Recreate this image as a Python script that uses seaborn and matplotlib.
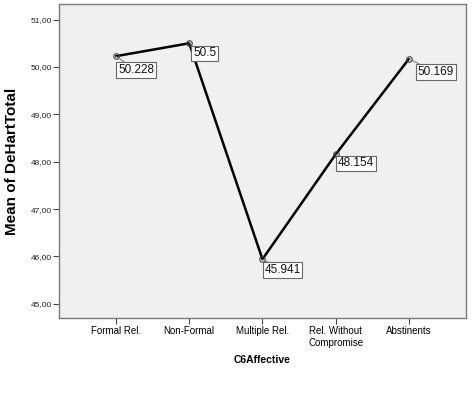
import matplotlib
matplotlib.use('Agg')
import matplotlib.pyplot as plt
import seaborn as sns
import pandas as pd
from matplotlib.ticker import FuncFormatter

categories = ['Formal Rel.', 'Non-Formal', 'Multiple Rel.', 'Rel. Without\nCompromise', 'Abstinents']
means = [50.228, 50.5, 45.941, 48.154, 50.169]
labels = ['50.228', '50.5', '45.941', '48.154', '50.169']
# label box offsets (pixels right, down) from each point
offsets = [(2, 8), (4, 4), (2, 5), (2, 3), (9, 7)]

df = pd.DataFrame({'C6Affective': categories, 'mean': means, 'pos': range(len(categories))})

sns.set_style('ticks')
plt.rcParams['font.family'] = ['Liberation Sans', 'DejaVu Sans']

fig = plt.figure(figsize=(4.75, 3.96), dpi=100)
ax = fig.add_axes([0.124, 0.197, 0.857, 0.793])
ax.set_facecolor('#f0f0f0')

sns.lineplot(data=df, x='pos', y='mean', ax=ax, color='black', linewidth=1.8,
             marker='o', markersize=4, markerfacecolor='none',
             markeredgecolor='#444444', markeredgewidth=0.8)

for i, (v, lab) in enumerate(zip(means, labels)):
    dx, dy = offsets[i]
    ax.annotate(lab, xy=(i, v), xytext=(dx * 0.72, -dy * 0.72), textcoords='offset points',
                ha='left', va='top', fontsize=8.5, color='#111111',
                bbox=dict(boxstyle='square,pad=0.15', fc='white', ec='#666666', lw=0.8),
                arrowprops=dict(arrowstyle='-', color='#777777', lw=0.7, shrinkA=0, shrinkB=0))

ax.set_xlim(-0.78, 4.78)
ax.set_ylim(44.7, 51.33)
ax.set_xticks(range(len(categories)))
ax.set_xticklabels(categories, fontsize=7, color='black')
ax.set_yticks([45, 46, 47, 48, 49, 50, 51])
ax.yaxis.set_major_formatter(FuncFormatter(lambda v, p: f'{v:.2f}'.replace('.', ',')))
ax.tick_params(axis='y', labelsize=6, length=4, width=0.8, color='#444444', labelcolor='#222222', pad=1)
ax.tick_params(axis='x', length=4, width=0.8, color='#444444', pad=2)

for s in ax.spines.values():
    s.set_color('#7a7a7a')
    s.set_linewidth(1.0)

ax.set_xlabel('C6Affective', fontsize=7.5, fontweight='bold', labelpad=5, color='black')
ax.set_ylabel('Mean of DeHartTotal', fontsize=11, fontweight='bold', labelpad=8, color='black')

fig.savefig('out.png', dpi=100)
